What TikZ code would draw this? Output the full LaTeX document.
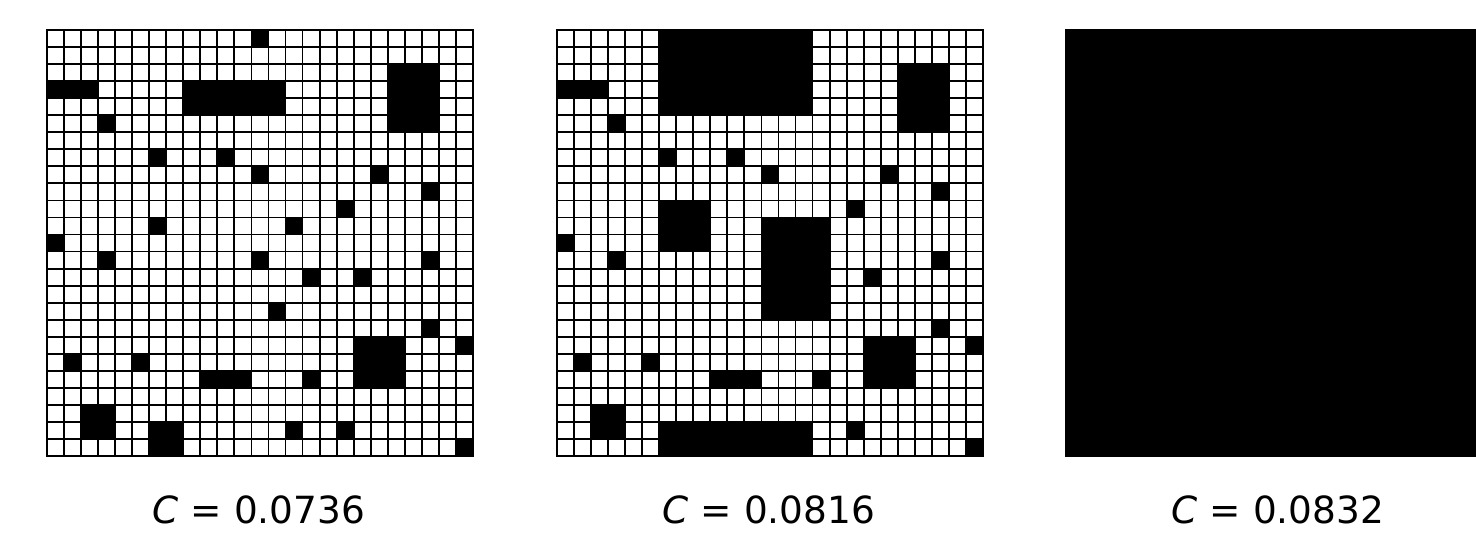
\documentclass[tikz,border=0pt]{standalone}
\usepackage{fontspec}
\setmainfont{DejaVu Sans}
\usepackage{tikz}
\usetikzlibrary{positioning}
\tikzset{
  gline/.style={line width=1.05pt},
  panelframe/.style={line width=1.4pt},
  cellfill/.style={fill=black},
  clabel/.style={font=\fontsize{21.3}{26}\selectfont,anchor=base,inner sep=0pt},
  cellunits/.style={x=0.3408cm,y=0.3408cm}
}
% fill columns #1..#2 and rows #3..#4 (row 0 is the top row)
\newcommand{\cellblock}[4]{\fill[cellfill] (#1,{24-#4}) rectangle ({#2+1},{25-#3});}
\newcommand{\gridlines}{%
  \foreach \k in {0,...,25} {
    \draw[gline] (\k,0) -- (\k,25);
    \draw[gline] (0,\k) -- (25,\k);
  }
  \draw[panelframe] (0,0) rectangle (25,25);
}
\newcommand{\basecells}{%
  \foreach \ca/\cb/\ra/\rb in {12/12/0/0, 0/2/3/3, 8/13/3/4, 20/22/2/5, 3/3/5/5,
    6/6/7/7, 10/10/7/7, 12/12/8/8, 19/19/8/8, 22/22/9/9, 17/17/10/10,
    6/6/11/11, 14/14/11/11, 0/0/12/12, 3/3/13/13, 12/12/13/13, 22/22/13/13,
    15/15/14/14, 18/18/14/14, 13/13/16/16, 22/22/17/17, 18/20/18/20,
    24/24/18/18, 1/1/19/19, 5/5/19/19, 9/11/20/20, 15/15/20/20,
    2/3/22/23, 6/7/23/24, 14/14/23/23, 17/17/23/23, 24/24/24/24}
    {\cellblock{\ca}{\cb}{\ra}{\rb}}
}

\begin{document}
\begin{tikzpicture}[x=0.02cm,y=0.02cm]
\useasboundingbox (0,0) rectangle (1476,537);

% first panel
\begin{scope}[shift={(47,81)},cellunits]
\basecells
\gridlines
\end{scope}

% second panel: extra blocks
\begin{scope}[shift={(557,81)},cellunits]
\basecells
\cellblock{6}{14}{0}{4}
\cellblock{6}{8}{10}{12}
\cellblock{12}{15}{11}{16}
\cellblock{6}{14}{23}{24}
\gridlines
\end{scope}

% third panel, cut at the right edge
\begin{scope}
\clip (0,0) rectangle (1476,537);
\begin{scope}[shift={(1066,81)},cellunits]
\cellblock{0}{24}{0}{24}
\gridlines
\end{scope}
\end{scope}

\node[clabel] (lab1) at (259,13) {{\itshape C} = 0.0736};
\node[clabel] (lab2) at (769,13) {{\itshape C} = 0.0816};
\node[clabel] (lab3) at (1278,13) {{\itshape C} = 0.0832};
\end{tikzpicture}
\end{document}
